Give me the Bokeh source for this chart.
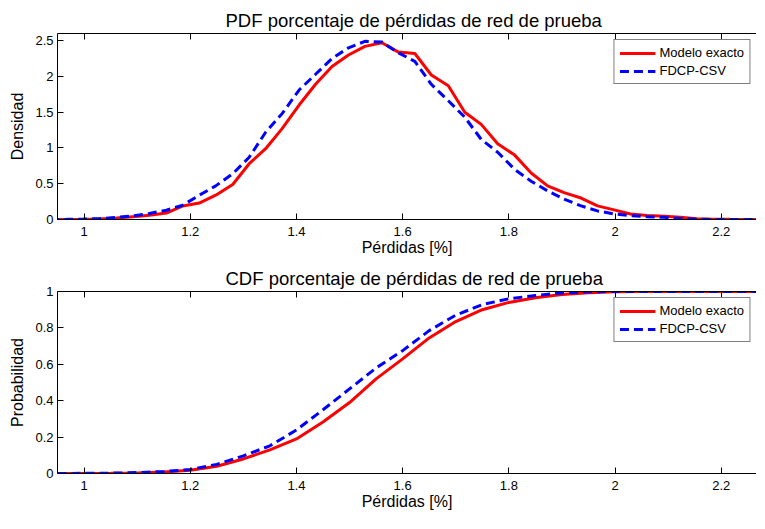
from bokeh.plotting import figure
from bokeh.layouts import column
from bokeh.models import Range1d, FixedTicker, LinearAxis
from bokeh.embed import file_html
from bokeh.resources import INLINE

# ---------------- data ----------------
pdf_x = [0.936, 0.967, 0.998, 1.029, 1.061, 1.092, 1.123, 1.155, 1.186, 1.217,
         1.248, 1.280, 1.311, 1.342, 1.373, 1.405, 1.436, 1.467, 1.498, 1.529,
         1.561, 1.592, 1.623, 1.654, 1.686, 1.717, 1.748, 1.779, 1.811, 1.842,
         1.873, 1.904, 1.936, 1.967, 1.998, 2.029, 2.060, 2.092, 2.123, 2.154,
         2.185, 2.217, 2.248, 2.279, 2.310]
pdf_exacto = [0.0, 0.0, 0.003, 0.008, 0.02, 0.04, 0.06, 0.09, 0.19, 0.23,
              0.34, 0.49, 0.78, 0.99, 1.27, 1.60, 1.89, 2.14, 2.30, 2.42,
              2.47, 2.34, 2.32, 2.02, 1.87, 1.50, 1.33, 1.06, 0.90, 0.65,
              0.47, 0.375, 0.30, 0.19, 0.135, 0.078, 0.055, 0.045, 0.03, 0.012,
              0.005, 0.002, 0.0, 0.0, 0.0]
pdf_fdcp = [0.0, 0.002, 0.005, 0.012, 0.03, 0.05, 0.085, 0.13, 0.20, 0.34,
            0.47, 0.64, 0.87, 1.22, 1.48, 1.81, 2.03, 2.25, 2.40, 2.49,
            2.48, 2.33, 2.21, 1.89, 1.66, 1.43, 1.12, 0.94, 0.70, 0.535,
            0.40, 0.285, 0.19, 0.12, 0.078, 0.055, 0.04, 0.03, 0.015, 0.005,
            0.0, 0.0, 0.0, 0.0, 0.0]

cdf_x = [0.95, 1.0, 1.05, 1.1, 1.15, 1.2, 1.25, 1.3, 1.35, 1.4, 1.45, 1.5, 1.55,
         1.6, 1.65, 1.7, 1.75, 1.8, 1.85, 1.9, 1.95, 2.0, 2.05, 2.1, 2.2, 2.3]
cdf_exacto = [0.0, 0.0005, 0.001, 0.003, 0.008, 0.018, 0.04, 0.08, 0.13, 0.19,
              0.283, 0.39, 0.52, 0.63, 0.745, 0.835, 0.90, 0.94, 0.966, 0.983,
              0.993, 0.998, 1.0, 1.0, 1.0, 1.0]
cdf_fdcp = [0.0, 0.001, 0.002, 0.005, 0.011, 0.022, 0.05, 0.097, 0.152, 0.239,
            0.35, 0.465, 0.58, 0.675, 0.785, 0.87, 0.928, 0.96, 0.978, 0.992,
            0.998, 1.0, 1.0, 1.0, 1.0, 1.0]

x_ticks = [1.0, 1.2, 1.4, 1.6, 1.8, 2.0, 2.2]
x_tick_labels = ["1", "1.2", "1.4", "1.6", "1.8", "2", "2.2"]
pdf_y_ticks = [0, 0.5, 1.0, 1.5, 2.0, 2.5]
pdf_y_tick_labels = ["0", "0.5", "1", "1.5", "2", "2.5"]
cdf_y_ticks = [0, 0.2, 0.4, 0.6, 0.8, 1.0]
cdf_y_tick_labels = ["0", "0.2", "0.4", "0.6", "0.8", "1"]

series_names = ["Modelo exacto", "FDCP-CSV"]
titles = ["PDF porcentaje de pérdidas de red de prueba",
          "CDF porcentaje de pérdidas de red de prueba"]
y_labels = ["Densidad", "Probabilidad"]
x_label = "Pérdidas [%]"

FONT = "Liberation Sans"
RED = "#ff0000"
BLUE = "#0000ff"


def make_fig(height, top, bottom, ymax, yticks, ylabels, title, ylabel,
             x, y1, y2):
    p = figure(width=756, height=height, output_backend="svg",
               toolbar_location=None,
               x_range=Range1d(0.95, 2.2664), y_range=Range1d(0, ymax),
               min_border_left=57, min_border_right=0,
               min_border_top=top, min_border_bottom=bottom)
    p.outline_line_color = None
    p.background_fill_color = "white"
    p.border_fill_color = "white"
    p.xgrid.visible = False
    p.ygrid.visible = False

    p.title.text = title
    p.title.align = "left"
    p.title.offset = 168
    p.title.text_font = FONT
    p.title.text_font_size = "18.5px"
    p.title.text_font_style = "normal"
    p.title.text_color = "#000000"
    p.title.standoff = 6

    xa = p.xaxis[0]
    xa.ticker = FixedTicker(ticks=x_ticks)
    xa.major_label_overrides = {t: l for t, l in zip(x_ticks, x_tick_labels)}
    xa.axis_label = x_label
    ya = p.yaxis[0]
    ya.ticker = FixedTicker(ticks=yticks)
    ya.major_label_overrides = {t: l for t, l in zip(yticks, ylabels)}
    ya.axis_label = ylabel

    for ax in (xa, ya):
        ax.major_tick_in = 6
        ax.major_tick_out = 0
        ax.minor_tick_line_color = None
        ax.axis_line_color = "black"
        ax.major_tick_line_color = "black"
        ax.major_label_text_font = FONT
        ax.major_label_text_font_size = "13px"
        ax.major_label_text_color = "#000000"
        ax.axis_label_text_font = FONT
        ax.axis_label_text_font_size = "16px"
        ax.axis_label_text_font_style = "normal"
        ax.axis_label_text_color = "#000000"
    xa.major_label_standoff = 7
    xa.axis_label_standoff = 0
    ya.major_label_standoff = 4
    ya.axis_label_standoff = 6

    top_axis = LinearAxis(ticker=FixedTicker(ticks=x_ticks),
                          major_tick_in=6, major_tick_out=0,
                          minor_tick_line_color=None,
                          major_label_text_font_size="1px",
                          major_label_text_color=None,
                          major_label_standoff=0,
                          axis_line_color="black",
                          major_tick_line_color="black")
    p.add_layout(top_axis, "above")

    p.line(x, y1, line_color=RED, line_width=3, legend_label=series_names[0])
    p.line(x, y2, line_color=BLUE, line_width=3, line_dash="9 5",
           legend_label=series_names[1])

    lg = p.legend[0]
    lg.location = "top_right"
    lg.margin = 6
    lg.padding = 5
    lg.spacing = 3
    lg.label_height = 14
    lg.glyph_height = 14
    lg.glyph_width = 36
    lg.label_standoff = 4
    lg.label_text_font = FONT
    lg.label_text_font_size = "13px"
    lg.label_text_color = "#000000"
    lg.border_line_color = "black"
    lg.border_line_width = 1
    lg.background_fill_color = "white"
    lg.background_fill_alpha = 1.0
    return p


p1 = make_fig(259, 33, 40, 2.6, pdf_y_ticks, pdf_y_tick_labels,
              titles[0], y_labels[0], pdf_x, pdf_exacto, pdf_fdcp)
p2 = make_fig(254, 32, 40, 1.0, cdf_y_ticks, cdf_y_tick_labels,
              titles[1], y_labels[1], cdf_x, cdf_exacto, cdf_fdcp)

layout = column(p1, p2, spacing=0)
open("out.html", "w").write(file_html(layout, INLINE))
